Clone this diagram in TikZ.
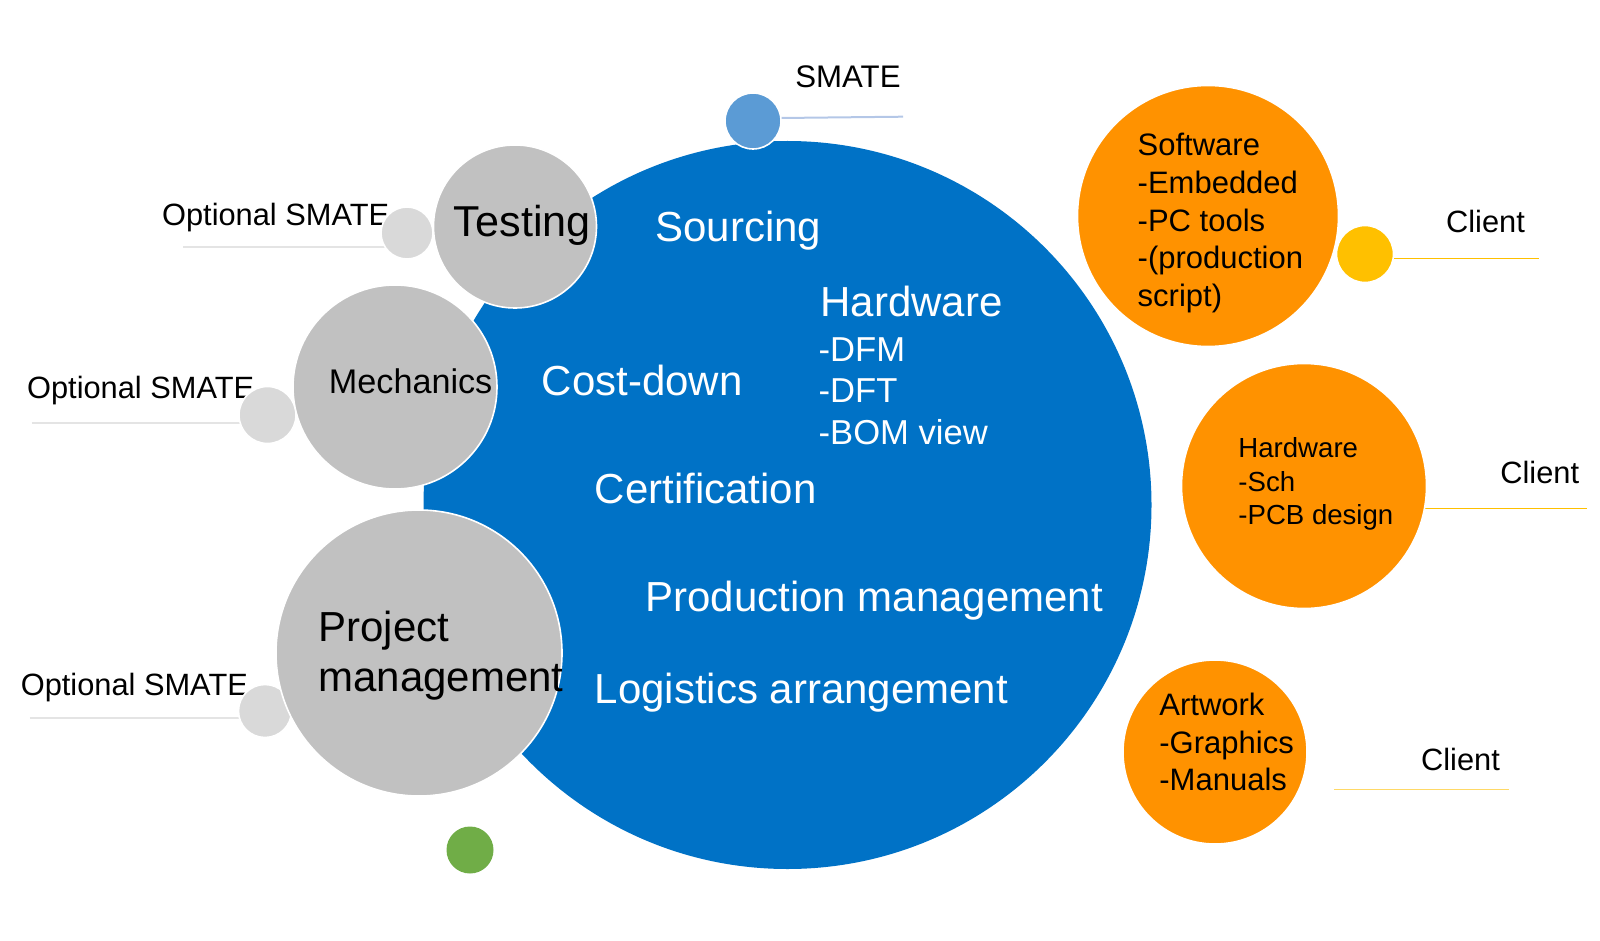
\documentclass[tikz,border=0pt]{standalone}
\usepackage{fontspec}
\setmainfont{Liberation Sans}
\definecolor{mainblue}{RGB}{0,114,198}
\definecolor{midgray}{RGB}{193,193,193}
\definecolor{lightgray}{RGB}{217,217,217}
\definecolor{smateblue}{RGB}{91,155,213}
\definecolor{orng}{RGB}{255,146,0}
\definecolor{yell}{RGB}{255,192,0}
\definecolor{grn}{RGB}{112,173,71}
\definecolor{linegray}{RGB}{228,228,228}
\definecolor{lineblue}{RGB}{180,199,231}
\begin{document}
\begin{tikzpicture}[x=0.5pt,y=-0.5pt,
  bubble/.style={circle,inner sep=0pt,draw=white,line width=0.8pt,minimum size=#1*0.5pt},
  txt/.style={anchor=base west,inner sep=0pt,font=\fontsize{#1}{#1}\selectfont},
  wtxt/.style={txt=#1,text=white},
  lead/.style={anchor=base west,inner sep=0pt,align=left},
  optline/.style={draw=linegray,line width=1pt},
  cline/.style={draw=yell,line width=0.75pt}]
\useasboundingbox (0,0) rectangle (1600,941);

% coordinates for free line ends
\coordinate (o1s) at (183,246.7);
\coordinate (o1e) at (395,246.7);
\coordinate (o2s) at (31.7,422.7);
\coordinate (o2e) at (255,422.7);
\coordinate (o3s) at (29.6,717.5);
\coordinate (o3e) at (255,717.5);
\coordinate (sme) at (903,116.7);
\coordinate (c1e) at (1538.7,258.3);
\coordinate (c2e) at (1586.7,508.3);
\coordinate (c3s) at (1334.3,789.3);
\coordinate (c3e) at (1509.3,789.3);

% labels under the small circles
\node[txt=15.4pt] (opt1) at (161.7,225.3) {Optional SMATE};
\node[txt=15.4pt] (opt2) at (26.7,398.3) {Optional SMATE};
\node[txt=15.4pt] (opt3) at (20.4,695) {Optional SMATE};
\node[txt=15.6pt] (smt) at (795,87.7) {SMATE};
\node[txt=15.4pt] (cl1) at (1445.7,232.3) {Client};
\node[txt=15.4pt] (cl2) at (1500,483.5) {Client};
\node[txt=15.4pt] (cl3) at (1420.7,770) {Client};

% main circle
\node[bubble=728,fill=mainblue,draw=none] (main) at (787.5,505) {};

% small circles and their lines
\draw[optline] (o1s) -- (o1e);
\draw[optline] (o2s) -- (o2e);
\draw[optline] (o3s) -- (o3e);
\node[bubble=52,fill=lightgray] (sg1) at (407,233) {};
\node[bubble=57,fill=lightgray] (sg2) at (267.5,415) {};
\node[bubble=53,fill=lightgray] (sg3) at (265,711) {};

% grey circles
\node[bubble=163,fill=midgray] (test) at (515,226.5) {};
\node[bubble=204,fill=midgray] (mech) at (395,387) {};
\node[bubble=286,fill=midgray] (pm) at (419,653) {};

% SMATE circle
\draw[draw=lineblue,line width=1pt] (753,118.3) -- (sme);
\node[bubble=56,fill=smateblue] (sm) at (753,121) {};

% green circle
\node[bubble=47,fill=grn,draw=none] (gc) at (470,850) {};

% client lines
\draw[cline] (c1e -| 1365,0) -- (c1e);
\draw[cline] (c2e -| 1304,0) -- (c2e);
\draw[cline,draw=yell!60] (c3s) -- (c3e);

% orange circles
\node[bubble=261,fill=orng] (sw) at (1208,216) {};
\node[bubble=245,fill=orng] (hw) at (1304,486) {};
\node[bubble=184,fill=orng] (art) at (1215,752) {};
\node[bubble=57,fill=yell] (yc) at (1365,254) {};

% texts in grey circles
\node[txt=21.6pt] (testt) at (453.5,236.5) {Testing};
\node[txt=17.1pt] (mecht) at (328.5,393.3) {Mechanics};
\node[lead,font=\fontsize{21pt}{25pt}\selectfont] (pmt) at (318,691) {Project\\management};

% texts in main circle
\node[wtxt=21pt] (src) at (655,241.7) {Sourcing};
\node[wtxt=21pt] (hwm) at (820,316.7) {Hardware};
\node[lead,text=white,font=\fontsize{17.3pt}{20.9pt}\selectfont] (dfm) at (818.3,444.7) {-DFM\\-DFT\\-BOM view};
\node[wtxt=21pt] (cost) at (541.3,395) {Cost-down};
\node[wtxt=21pt] (cert) at (594.3,503.7) {Certification};
\node[wtxt=21pt] (prod) at (645,611.7) {Production management};
\node[wtxt=21pt] (logi) at (594.3,703.5) {Logistics arrangement};

% texts in orange circles
\node[lead,font=\fontsize{15.5pt}{18.9pt}\selectfont] (swt) at (1137.3,306.7) {Software\\-Embedded\\-PC tools\\-(production\\script)};
\node[lead,font=\fontsize{13.8pt}{16.7pt}\selectfont] (hwt) at (1238,524.7) {Hardware\\-Sch\\-PCB design};
\node[lead,font=\fontsize{15.5pt}{18.9pt}\selectfont] (artt) at (1159,790.8) {Artwork\\-Graphics\\-Manuals};
\end{tikzpicture}
\end{document}
